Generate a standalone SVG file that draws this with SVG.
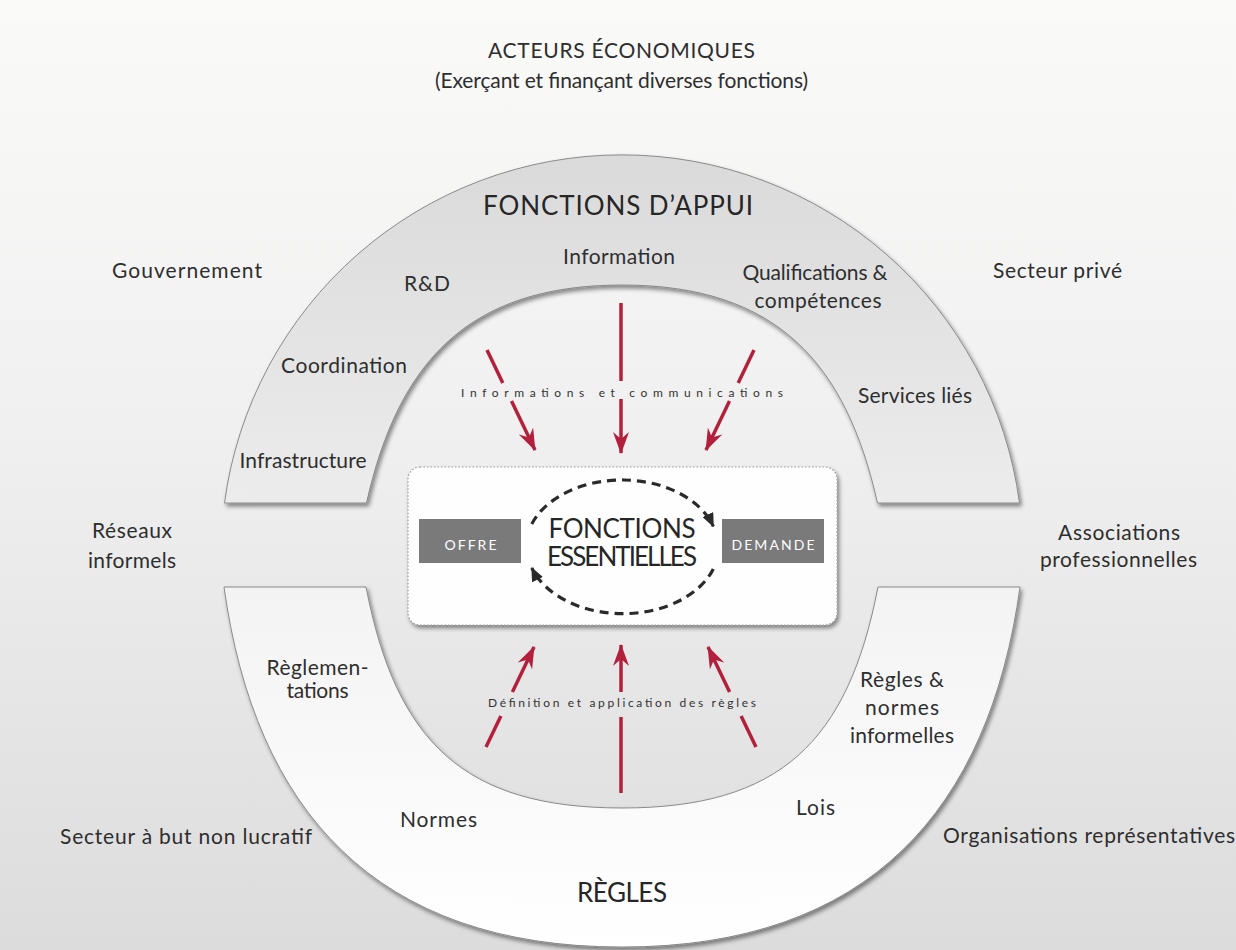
<svg xmlns="http://www.w3.org/2000/svg" width="1236" height="950" viewBox="0 0 1236 950">
<defs>
  <linearGradient id="bg" x1="0" y1="0" x2="0" y2="1">
    <stop offset="0" stop-color="#fafaf9"/>
    <stop offset="0.45" stop-color="#f0f0f0"/>
    <stop offset="1" stop-color="#dcdcdc"/>
  </linearGradient>
  <linearGradient id="gUp" x1="0" y1="0" x2="0" y2="1">
    <stop offset="0" stop-color="#dadada"/>
    <stop offset="1" stop-color="#ececec"/>
  </linearGradient>
  <linearGradient id="gLow" x1="0" y1="0" x2="0" y2="1">
    <stop offset="0" stop-color="#f3f3f3"/>
    <stop offset="1" stop-color="#ffffff"/>
  </linearGradient>
  <filter id="sh" x="-10%" y="-10%" width="125%" height="130%">
    <feDropShadow dx="2" dy="3" stdDeviation="2.2" flood-color="#000" flood-opacity="0.45"/>
  </filter>
  <marker id="redHead" markerUnits="userSpaceOnUse" viewBox="0 0 22 16" markerWidth="22" markerHeight="16" refX="21" refY="8" orient="auto">
    <path d="M0,0 L22,8 L0,16 L7,8 Z" fill="#b3203b"/>
  </marker>
  <marker id="blkHead" markerUnits="userSpaceOnUse" viewBox="0 0 14 12" markerWidth="14" markerHeight="12" refX="13" refY="6" orient="auto">
    <path d="M0,0 L14,6 L0,12 Z" fill="#2a2a2a"/>
  </marker>
</defs>
<style>
  .lbl{font-family:Lato,'Liberation Sans',sans-serif;font-size:21px;fill:#2e2e2e;text-anchor:middle}
  .ttl{font-family:Lato,'Liberation Sans',sans-serif;font-size:26px;fill:#262626;text-anchor:middle}
  .sm{font-family:Lato,'Liberation Sans',sans-serif;font-size:12px;fill:#333;text-anchor:middle}
  .box{font-family:Lato,'Liberation Sans',sans-serif;font-size:14px;fill:#ffffff;text-anchor:middle}
  .band{stroke:#8a8a8a;stroke-width:1;filter:url(#sh)}
  .red{stroke:#b3203b;stroke-width:3.5;fill:none;stroke-linecap:butt}
  .cyc{stroke:#2a2a2a;stroke-width:3.2;fill:none;stroke-dasharray:9 6}
</style>

<rect x="0" y="0" width="1236" height="950" fill="url(#bg)"/>

<g id="header">
  <text class="lbl" x="621.5" y="58" font-size="19" textLength="267">ACTEURS ÉCONOMIQUES</text>
  <text class="lbl" x="621.5" y="88" font-size="18" textLength="373">(Exerçant et finançant diverses fonctions)</text>
</g>

<g id="fonctions-appui">
  <path class="band" fill="url(#gUp)" d="M224.5,503 A401,401 0 0 1 1019.5,503 L877.5,503 C846,363 777,285 622,285 C467,285 398,363 366.5,503 Z"/>
  <text class="ttl" x="618" y="215" textLength="270">FONCTIONS D’APPUI</text>
  <text class="lbl" x="619" y="264" textLength="112">Information</text>
  <text class="lbl" x="427" y="291" textLength="46">R&amp;D</text>
  <text class="lbl" x="815" y="280" textLength="145">Qualifications &amp;</text>
  <text class="lbl" x="818" y="308" textLength="127">compétences</text>
  <text class="lbl" x="344" y="373" textLength="126">Coordination</text>
  <text class="lbl" x="915" y="403" textLength="114">Services liés</text>
  <text class="lbl" x="303" y="468" textLength="127">Infrastructure</text>
</g>

<g id="regles">
  <path class="band" fill="url(#gLow)" d="M224,587 C255,810 375,947 622,947 C869,947 989,810 1020,587 L878,587 C848,742 780,808 622,808 C464,808 396,742 366,587 Z"/>
  <text class="lbl" x="317.5" y="675" textLength="102">Règlemen-</text>
  <text class="lbl" x="317.5" y="698" textLength="62">tations</text>
  <text class="lbl" x="902" y="687" textLength="84">Règles &amp;</text>
  <text class="lbl" x="902" y="715" textLength="74">normes</text>
  <text class="lbl" x="902" y="743" textLength="104">informelles</text>
  <text class="lbl" x="438.5" y="827" textLength="77">Normes</text>
  <text class="lbl" x="815.5" y="815" textLength="39">Lois</text>
  <text class="ttl" x="622" y="902" textLength="90">RÈGLES</text>
</g>

<g id="acteurs">
  <text class="lbl" x="187" y="278" textLength="150">Gouvernement</text>
  <text class="lbl" x="1057.5" y="278" textLength="129">Secteur privé</text>
  <text class="lbl" x="132" y="538" textLength="80">Réseaux</text>
  <text class="lbl" x="132" y="568" textLength="88">informels</text>
  <text class="lbl" x="1119" y="540" textLength="122">Associations</text>
  <text class="lbl" x="1118.5" y="567" textLength="157">professionnelles</text>
  <text class="lbl" x="186" y="844" textLength="252">Secteur à but non lucratif</text>
  <text class="lbl" x="1089" y="843" textLength="292">Organisations représentatives</text>
</g>

<g id="fonctions-essentielles">
  <rect x="408" y="467" width="429" height="158" rx="12" ry="12" fill="#fefefe" stroke="#9a9a9a" stroke-width="1.2" stroke-dasharray="1.5 2" filter="url(#sh)"/>
  <text class="ttl" x="622" y="538" font-size="18" textLength="147">FONCTIONS</text>
  <text class="ttl" x="622" y="566" font-size="18" textLength="150">ESSENTIELLES</text>
</g>

<g id="offre">
  <rect x="419" y="519" width="102" height="44" fill="#7a7a7a"/>
  <text class="box" x="470.5" y="550" textLength="52">OFFRE</text>
</g>

<g id="demande">
  <rect x="722" y="519" width="102" height="44" fill="#7a7a7a"/>
  <text class="box" x="773" y="550" textLength="83">DEMANDE</text>
</g>

<g id="connectors">
  <path class="cyc" d="M531.8,524 A96,67 0 0 1 713.3,526.3" marker-end="url(#blkHead)"/>
  <path class="cyc" d="M713.3,569 A96,67 0 0 1 531.8,568" marker-end="url(#blkHead)"/>

  <line class="red" x1="487" y1="350" x2="502.8" y2="383"/>
  <line class="red" x1="511.5" y1="401" x2="535" y2="450" marker-end="url(#redHead)"/>
  <line class="red" x1="621" y1="303" x2="621" y2="381"/>
  <line class="red" x1="621" y1="399" x2="621" y2="453" marker-end="url(#redHead)"/>
  <line class="red" x1="754" y1="350" x2="738.2" y2="383"/>
  <line class="red" x1="729.5" y1="401" x2="706" y2="450" marker-end="url(#redHead)"/>
  <text class="sm" x="622" y="397" font-size="11.5" textLength="322">Informations et communications</text>

  <line class="red" x1="486" y1="747" x2="500.9" y2="716"/>
  <line class="red" x1="512.4" y1="692" x2="534" y2="647" marker-end="url(#redHead)"/>
  <line class="red" x1="621" y1="793" x2="621" y2="717"/>
  <line class="red" x1="621" y1="692" x2="621" y2="645" marker-end="url(#redHead)"/>
  <line class="red" x1="756" y1="747" x2="741.1" y2="716"/>
  <line class="red" x1="729.6" y1="692" x2="708" y2="647" marker-end="url(#redHead)"/>
  <text class="sm" x="622" y="707" font-size="12.5" textLength="268">Définition et application des règles</text>
</g>
</svg>
